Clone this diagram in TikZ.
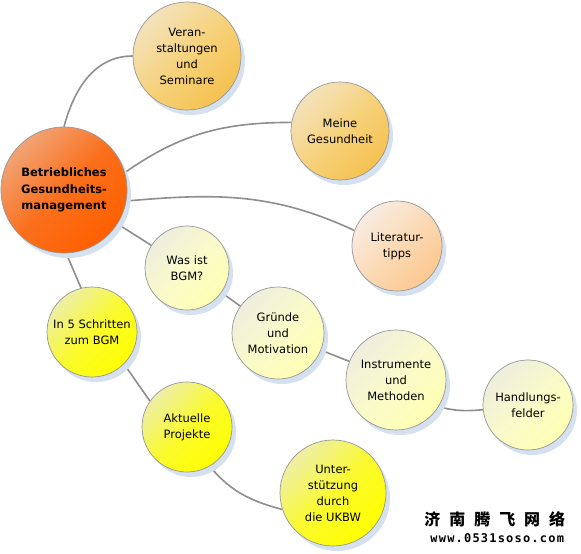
\documentclass[tikz,border=0pt]{standalone}
\usepackage{fontspec}
\setmainfont{DejaVu Sans}
\newfontfamily\cjkfont{Noto Sans CJK SC}
\newfontfamily\wwwfont{DejaVu Sans Mono}
\usetikzlibrary{positioning, shadows, backgrounds}

\definecolor{linegray}{HTML}{8E8E8E}
\definecolor{rimgray}{HTML}{979797}
\definecolor{shadowblue}{HTML}{D5E1EF}
\definecolor{F1A375}{HTML}{F1A375}
\definecolor{FF6000}{HTML}{FF6000}
\definecolor{FB6F1C}{HTML}{FB6F1C}
\definecolor{F4E2BC}{HTML}{F4E2BC}
\definecolor{F5C250}{HTML}{F5C250}
\definecolor{F6D27C}{HTML}{F6D27C}
\definecolor{F8ECE2}{HTML}{F8ECE2}
\definecolor{FCC890}{HTML}{FCC890}
\definecolor{FBDAB6}{HTML}{FBDAB6}
\definecolor{EEEEDE}{HTML}{EEEEDE}
\definecolor{FFFFB4}{HTML}{FFFFB4}
\definecolor{FAFACA}{HTML}{FAFACA}
\definecolor{EEEEA8}{HTML}{EEEEA8}
\definecolor{FFFF00}{HTML}{FFFF00}
\definecolor{FAFA30}{HTML}{FAFA30}

\tikzset{every picture/.append style={thick}}
\tikzset{
    topic/.style={circle, draw=rimgray, line width=0.7pt, inner sep=0pt, align=center,
        font=\fontsize{11.5}{16}\selectfont,
        drop shadow={shadow xshift=4pt, shadow yshift=-5pt, fill=shadowblue, opacity=1}},
    orangeball/.style={top color=F1A375, bottom color=FF6000, middle color=FB6F1C, shading angle=45},
    goldball/.style={top color=F4E2BC, bottom color=F5C250, middle color=F6D27C, shading angle=45},
    peachball/.style={top color=F8ECE2, bottom color=FCC890, middle color=FBDAB6, shading angle=45},
    paleball/.style={top color=EEEEDE, bottom color=FFFFB4, middle color=FAFACA, shading angle=45},
    yellowball/.style={top color=EEEEA8, bottom color=FFFF00, middle color=FAFA30, shading angle=45},
    link/.style={draw=linegray, line width=1.6pt}
}

\begin{document}
\begin{tikzpicture}[x=1pt, y=1pt]
    \useasboundingbox (0,0) rectangle (581,-554);

    % main topic
    \node[topic, orangeball, minimum size=126pt, font=\bfseries\fontsize{11.5}{16.5}\selectfont] (bgm) at (64,-190) {Betriebliches\\Gesundheits-\\management};

    % first ring
    \node[topic, goldball, minimum size=108pt] (veranst) at (187,-56) {Veran-\\staltungen\\und\\Seminare};
    \node[topic, goldball, minimum size=98pt] (meine) at (340,-131) {Meine\\Gesundheit};
    \node[topic, peachball, minimum size=90pt] (litera) at (397,-246) {Literatur-\\tipps};

    % chain of pale topics
    \node[topic, paleball, minimum size=84pt] (wasist) at (187,-268) {Was ist\\BGM?};
    \node[topic, paleball, minimum size=92pt] (gruende) at (278,-333) {Gründe\\und\\Motivation};
    \node[topic, paleball, minimum size=100pt] (instr) at (396,-380) {Instrumente\\und\\Methoden};
    \node[topic, paleball, minimum size=90pt] (handl) at (528,-405) {Handlungs-\\felder};

    % chain of yellow topics
    \node[topic, yellowball, minimum size=90pt] (schritte) at (92,-332) {In 5 Schritten\\zum BGM};
    \node[topic, yellowball, minimum size=90pt] (aktuelle) at (187,-427) {Aktuelle\\Projekte};
    \node[topic, yellowball, minimum size=106pt] (unterst) at (333,-493) {Unter-\\stützung\\durch\\die UKBW};

    % watermark
    \node[anchor=west, inner sep=0pt, font=\cjkfont\bfseries\fontsize{16}{16}\selectfont\addfontfeature{LetterSpace=56}] (wmcn) at (424,-519) {济南腾飞网络};
    \node[anchor=west, inner sep=0pt, font=\wwwfont\bfseries\fontsize{12}{12}\selectfont\addfontfeature{LetterSpace=10}] (wmurl) at (430,-538) {www.0531soso.com};

    \begin{scope}[on background layer]
        \fill[white] (0,0) rectangle (581,-554);
        \draw[link] (bgm.90) to[out=75, in=180] (veranst.180);
        \draw[link] (bgm.16) to[out=35, in=180] (meine.170);
        \draw[link] (bgm.-10) to[out=5, in=155] (litera.160);
        \draw[link] (bgm) -- (wasist);
        \draw[link] (bgm.-88) -- (schritte.104);
        \draw[link] (wasist) -- (gruende);
        \draw[link] (gruende) -- (instr);
        \draw[link] (instr.-32) to[out=-15, in=185] (handl.186);
        \draw[link] (schritte.-45) -- (aktuelle.145);
        \draw[link] (aktuelle.-60) to[out=-50, in=165] (unterst.198);
    \end{scope}
\end{tikzpicture}
\end{document}
